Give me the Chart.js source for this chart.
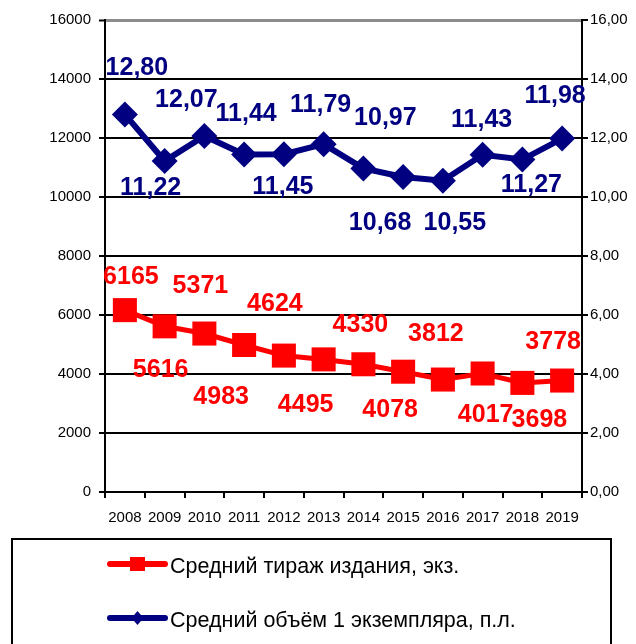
<!DOCTYPE html>
<html>
<head>
<meta charset="utf-8">
<script src="https://cdn.jsdelivr.net/npm/chart.js@4/dist/chart.umd.min.js"></script>
<style>
  html, body { margin: 0; padding: 0; background: #fff; }
</style>
</head>
<body>
<canvas id="chart" width="636" height="644"></canvas>
<script>
const years = ["2008", "2009", "2010", "2011", "2012", "2013", "2014", "2015", "2016", "2017", "2018", "2019"];
const avgCirculation = [6165, 5616, 5371, 4983, 4624, 4495, 4330, 4078, 3812, 4017, 3698, 3778];
const avgVolume = [12.80, 11.22, 12.07, 11.44, 11.45, 11.79, 10.97, 10.68, 10.55, 11.43, 11.27, 11.98];
const leftTicks = [0, 2000, 4000, 6000, 8000, 10000, 12000, 14000, 16000];
const rightTicks = [0, 2, 4, 6, 8, 10, 12, 14, 16];

// where each value label sits relative to its point (dx, dy)
const labelShift = [
  [[6, -33], [-4, 44], [-4, -47], [-23, 52], [-9, -51], [-18, 46], [-3, -39], [-13, 38], [-7, -45], [3, 42], [17, 37], [-9, -38]],
  [[12, -46], [-14, 27], [-18, -36], [2, -40], [-1, 33], [-3, -39], [22, -50], [-23, 46], [12, 42], [-1, -35], [9, 26], [-7, -42]]
];

const FONT = "'Liberation Sans', Arial, sans-serif";
const comma = v => v.toFixed(2).replace('.', ',');

const valueLabels = {
  id: 'valueLabels',
  afterDatasetsDraw(chart) {
    const ctx = chart.ctx;
    ctx.save();
    ctx.font = "bold 25px " + FONT;
    ctx.textAlign = 'center';
    ctx.textBaseline = 'middle';
    chart.data.datasets.forEach((ds, d) => {
      const meta = chart.getDatasetMeta(d);
      ctx.fillStyle = ds.borderColor;
      meta.data.forEach((pt, i) => {
        const v = ds.data[i];
        const txt = d === 0 ? String(v) : comma(v);
        ctx.fillText(txt, pt.x + labelShift[d][i][0], pt.y + labelShift[d][i][1]);
      });
    });
    ctx.restore();
  }
};

const boxLegend = {
  id: 'boxLegend',
  afterDraw(chart) {
    const ctx = chart.ctx;
    ctx.save();
    ctx.strokeStyle = '#000';
    ctx.lineWidth = 2;
    ctx.strokeRect(12, 539, 599, 200);
    chart.data.datasets.forEach((ds, d) => {
      const y = 564 + d * 54;
      ctx.strokeStyle = ds.borderColor;
      ctx.fillStyle = ds.borderColor;
      ctx.lineWidth = 6;
      ctx.lineCap = 'round';
      ctx.beginPath();
      ctx.moveTo(110, y);
      ctx.lineTo(165, y);
      ctx.stroke();
      ctx.beginPath();
      if (d === 0) {
        ctx.rect(130, y - 7, 15, 14);
      } else {
        ctx.moveTo(137.5, y - 7);
        ctx.lineTo(143.5, y);
        ctx.lineTo(137.5, y + 7);
        ctx.lineTo(131.5, y);
        ctx.closePath();
      }
      ctx.fill();
      ctx.fillStyle = '#000';
      ctx.font = "21.5px " + FONT;
      ctx.textAlign = 'left';
      ctx.textBaseline = 'middle';
      ctx.fillText(ds.label, 170, y + 3);
    });
    ctx.restore();
  }
};

new Chart(document.getElementById("chart"), {
  type: 'line',
  data: {
    labels: years,
    datasets: [
      {
        label: "Средний тираж издания, экз.",
        data: avgCirculation,
        yAxisID: 'y',
        borderColor: "#FF0000",
        backgroundColor: "#FF0000",
        borderWidth: 5,
        pointStyle: 'rect',
        pointRadius: 17,
        pointBorderWidth: 0,
        pointHoverRadius: 17,
        tension: 0
      },
      {
        label: "Средний объём 1 экземпляра, п.л.",
        data: avgVolume,
        yAxisID: 'y2',
        borderColor: "#000080",
        backgroundColor: "#000080",
        borderWidth: 6,
        pointStyle: 'rectRot',
        pointRadius: 13,
        pointBorderWidth: 0,
        pointHoverRadius: 13,
        tension: 0
      }
    ]
  },
  options: {
    responsive: false,
    animation: false,
    layout: { padding: { top: 20, bottom: 122, left: 0, right: 0 } },
    plugins: {
      legend: { display: false },
      tooltip: { enabled: false }
    },
    scales: {
      x: {
        offset: true,
        grid: { offset: true, drawOnChartArea: false, color: '#000', lineWidth: 2, tickLength: 6 },
        border: { color: '#000', width: 2 },
        ticks: { color: '#000', font: { family: FONT, size: 15 }, maxRotation: 0, autoSkip: false, padding: 11 },
        afterFit(s) { s.height = 30; }
      },
      y: {
        position: 'left',
        min: 0,
        max: 16000,
        afterBuildTicks(s) { s.ticks = leftTicks.map(v => ({ value: v })); },
        grid: {
          color: c => (c.tick && c.tick.value === 16000 ? '#8c8c8c' : '#000'),
          lineWidth: c => (c.tick && c.tick.value === 16000 ? 3 : 2),
          tickColor: '#000',
          tickWidth: 2,
          tickLength: 6
        },
        border: { color: '#000', width: 2 },
        ticks: { color: '#000', font: { family: FONT, size: 15 }, padding: 8, callback: v => String(v) },
        afterFit(s) { s.width = 105; }
      },
      y2: {
        position: 'right',
        min: 0,
        max: 16,
        afterBuildTicks(s) { s.ticks = rightTicks.map(v => ({ value: v })); },
        grid: { drawOnChartArea: false, color: '#000', lineWidth: 2, tickLength: 6 },
        border: { color: '#000', width: 2 },
        ticks: { color: '#000', font: { family: FONT, size: 15 }, padding: 2, callback: v => comma(v) },
        afterFit(s) { s.width = 54; }
      }
    }
  },
  plugins: [valueLabels, boxLegend]
});
</script>
</body>
</html>
